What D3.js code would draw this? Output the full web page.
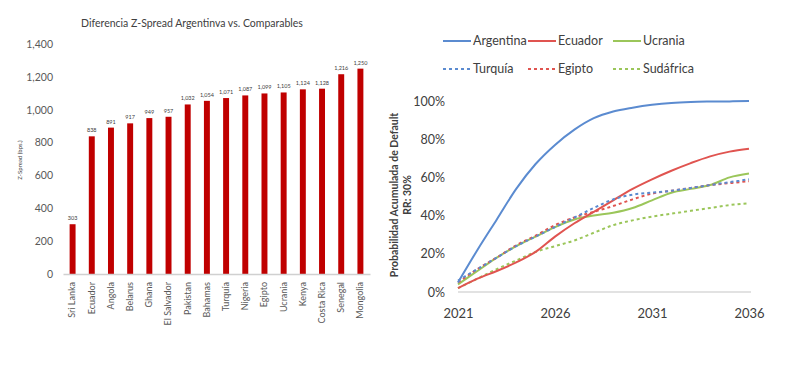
<!DOCTYPE html>
<html><head><meta charset="utf-8">
<script src="https://cdn.jsdelivr.net/npm/d3@7"></script>
<style>body{margin:0;background:#fff}svg{display:block;font-family:Lato,"Open Sans",sans-serif}</style>
</head><body><svg id="c" width="800" height="365"></svg>
<script>
// ---- Left chart data ----
const countries = ["Sri Lanka","Ecuador","Angola","Belarus","Ghana","El Salvador","Pakistan","Bahamas","Turquía","Nigeria","Egipto","Ucrania","Kenya","Costa Rica","Senegal","Mongolia"];
const spreads = [303,838,891,917,949,957,1032,1054,1071,1087,1099,1105,1124,1128,1216,1250];
const spreadTicks = [0,200,400,600,800,1000,1200,1400];

// ---- Right chart data ----
const years = [2021,2022,2023,2024,2025,2026,2027,2028,2029,2030,2031,2032,2033,2034,2035,2036];
const argentina = [5,22,38,54,67,77,85,91,94.5,96.5,98,99,99.5,99.7,99.8,100];
const ecuador   = [2,7,11,15.5,21,29,36,42,48,54,59,63.5,67.5,71,73.5,75];
const ucrania   = [4,11,18,24,29,34,38,40,41.5,44,48,52,54,56,60,62];
const turquia   = [6,12,18,24,29,34,39,44,48.5,51,52,53,54.5,56,57.5,59];
const egipto    = [5,12,18,24.5,29.5,35,39,42,45,48.5,51.5,53,54.5,56,57,58];
const sudafrica = [2,7,12,16.5,21,24,27,31,35,37.5,39.5,41,42.5,44,45.5,46.5];
const pctTicks = [0,20,40,60,80,100];
const yearTicks = [2021,2026,2031,2036];

const svg = d3.select("#c");

// ================= LEFT: bar chart =================
const L = {x0:63, x1:370, y0:274, y1:44};
const xb = d3.scaleBand().domain(countries).range([L.x0, L.x1]).paddingInner(0.69).paddingOuter(0.345);
const yb = d3.scaleLinear().domain([0,1400]).range([L.y0, L.y1]);
const gL = svg.append("g");

gL.append("text").attr("x",192).attr("y",27).attr("text-anchor","middle")
  .attr("font-size",10.5).attr("fill","#404040").text("Diferencia Z-Spread Argentinva vs. Comparables");

const fmt = d3.format(",");
const yAxisL = d3.axisLeft(yb).tickValues(spreadTicks).tickFormat(fmt).tickSize(0).tickPadding(10);
gL.append("g").attr("transform",`translate(${L.x0},0)`).call(yAxisL)
  .call(g=>g.select(".domain").remove())
  .call(g=>g.selectAll("text").attr("font-size",10.5).attr("fill","#595959").attr("font-family","Lato"));

gL.append("text").attr("transform","translate(22,160) rotate(-90)").attr("text-anchor","middle")
  .attr("font-size",6).attr("fill","#404040").text("Z-Spread (bps.)");

gL.selectAll("rect.bar").data(countries).join("rect").attr("class","bar")
  .attr("x",d=>xb(d)).attr("width",xb.bandwidth())
  .attr("y",(d,i)=>yb(spreads[i])).attr("height",(d,i)=>yb(0)-yb(spreads[i]))
  .attr("fill","#C00000");

gL.selectAll("text.val").data(countries).join("text").attr("class","val")
  .attr("x",d=>xb(d)+xb.bandwidth()/2).attr("y",(d,i)=>yb(spreads[i])-4)
  .attr("text-anchor","middle").attr("font-size",5.5).attr("fill","#404040")
  .text((d,i)=>fmt(spreads[i]));

const xAxisL = d3.axisBottom(xb).tickSize(0).tickPadding(0);
gL.append("g").attr("transform",`translate(0,${L.y0})`).call(xAxisL)
  .call(g=>g.select(".domain").attr("stroke","#d0d0d0").attr("stroke-width",1.5))
  .call(g=>g.selectAll("text").attr("font-size",9).attr("fill","#595959").attr("font-family","Lato")
     .attr("text-anchor","end").attr("dy","0.32em")
     .attr("transform","translate(0,8) rotate(-90)").attr("x",0).attr("y",0));

// ================= RIGHT: line chart =================
const R = {x0:458, x1:749, y0:292, y1:101};
const xr = d3.scaleLinear().domain([2021,2036]).range([R.x0,R.x1]);
const yr = d3.scaleLinear().domain([0,100]).range([R.y0,R.y1]);
const gR = svg.append("g");

gR.append("line").attr("x1",R.x0).attr("x2",R.x1+2).attr("y1",R.y0).attr("y2",R.y0)
  .attr("stroke","#d9d9d9").attr("stroke-width",1.5);

const yAxisR = d3.axisLeft(yr).tickValues(pctTicks).tickFormat(d=>d+"%").tickSize(0).tickPadding(0);
gR.append("g").attr("transform","translate(445,0)").call(yAxisR)
  .call(g=>g.select(".domain").remove())
  .call(g=>g.selectAll("text").attr("font-size",12.5).attr("fill","#404040").attr("font-family","Lato"));

const xAxisR = d3.axisBottom(xr).tickValues(yearTicks).tickFormat(d3.format("d")).tickSize(0).tickPadding(17);
gR.append("g").attr("transform",`translate(0,${R.y0})`).call(xAxisR)
  .call(g=>g.select(".domain").remove())
  .call(g=>g.selectAll("text").attr("font-size",13).attr("fill","#404040").attr("font-family","Lato"));

gR.append("text").attr("transform","translate(398,195) rotate(-90)").attr("text-anchor","middle")
  .attr("font-size",10.5).attr("fill","#404040").attr("font-weight","bold").text("Probabilidad Acumulada de Default");
gR.append("text").attr("transform","translate(411,195) rotate(-90)").attr("text-anchor","middle")
  .attr("font-size",10.5).attr("fill","#404040").attr("font-weight","bold").text("RR: 30%");

const series = [
  {name:"Argentina", vals:argentina, color:"#5B8BD0", dash:null},
  {name:"Ecuador", vals:ecuador, color:"#E05450", dash:null},
  {name:"Ucrania", vals:ucrania, color:"#9BC65A", dash:null},
  {name:"Turquía", vals:turquia, color:"#5B8BD0", dash:"3,3"},
  {name:"Egipto", vals:egipto, color:"#E05450", dash:"3,3"},
  {name:"Sudáfrica", vals:sudafrica, color:"#9BC65A", dash:"3,3"}
];
const line = d3.line().x((d,i)=>xr(years[i])).y(d=>yr(d)).curve(d3.curveMonotoneX);
const drawOrder = [5,2,1,4,3,0];
drawOrder.forEach(k=>{
  const s = series[k];
  gR.append("path").datum(s.vals).attr("d",line).attr("fill","none")
    .attr("stroke",s.color).attr("stroke-width",2)
    .attr("stroke-dasharray",s.dash);
});

// legend
const legPos = [[443,41],[528,41],[613,41],[443,69],[528,69],[613,69]];
series.forEach((s,i)=>{
  const [lx,ly] = legPos[i];
  const len = 28;
  gR.append("line").attr("x1",lx).attr("x2",lx+len).attr("y1",ly).attr("y2",ly)
    .attr("stroke",s.color).attr("stroke-width",2).attr("stroke-dasharray",s.dash);
  gR.append("text").attr("x",lx+len+2).attr("y",ly).attr("dy","0.35em")
    .attr("font-size",12.5).attr("fill","#404040").text(s.name);
});
</script></body></html>
